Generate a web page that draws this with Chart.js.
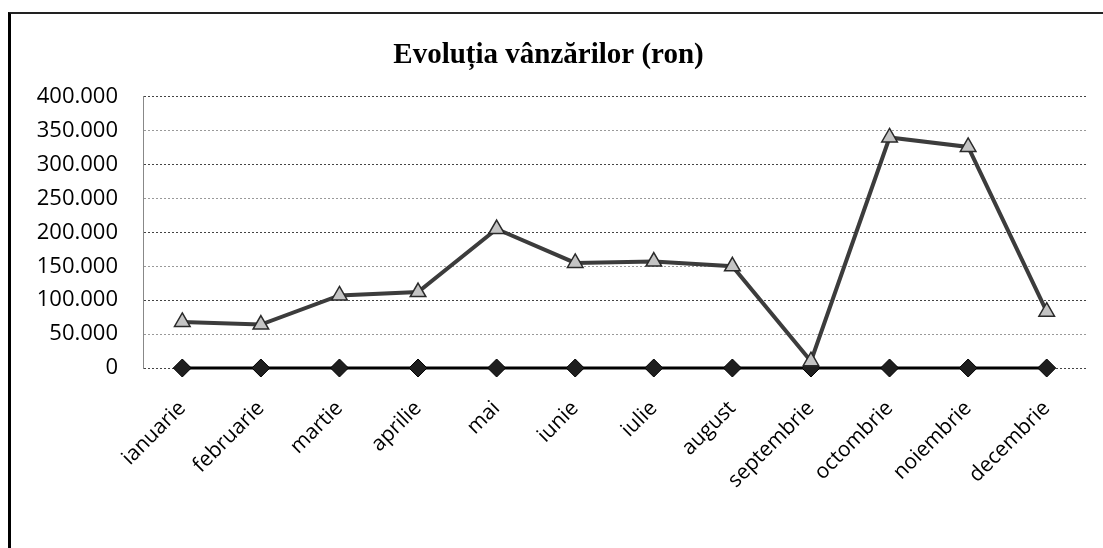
<!DOCTYPE html>
<html>
<head>
<meta charset="utf-8">
<script src="https://cdn.jsdelivr.net/npm/chart.js@4"></script>
<style>
  body { margin: 0; background: #fff; }
  #frame {
    position: absolute;
    left: 8px;
    top: 12px;
    width: 1092px;
    height: 534px;
    border-left: 3px solid #000;
    border-top: 2px solid #222;
  }
</style>
</head>
<body>
<div id="frame"><canvas id="chart" width="1092" height="534"></canvas></div>
<script>
const luni = ['ianuarie', 'februarie', 'martie', 'aprilie', 'mai', 'iunie',
              'iulie', 'august', 'septembrie', 'octombrie', 'noiembrie', 'decembrie'];
const vanzari = [68000, 64000, 107000, 112000, 205000, 155000,
                 157000, 150000, 10000, 340000, 326000, 83000];
const baza = [0, 0, 0, 0, 0, 0, 0, 0, 0, 0, 0, 0];
const yTicks = [0, 50000, 100000, 150000, 200000, 250000, 300000, 350000, 400000];

// 400000 -> "400.000"
function formatRon(v) {
    return String(v).replace(/\B(?=(\d{3})+(?!\d))/g, '.');
}

const ctx = document.getElementById('chart').getContext('2d');
new Chart(ctx, {
    type: 'line',
    data: {
        labels: luni,
        datasets: [
            {
                label: 'Vânzări',
                data: vanzari,
                borderColor: '#3c3c3c',
                borderWidth: 4,
                pointStyle: 'triangle',
                pointRadius: 9,
                pointBackgroundColor: '#c4c4c4',
                pointBorderColor: '#2a2a2a',
                pointBorderWidth: 1.5,
                tension: 0,
                clip: false,
                order: 1
            },
            {
                label: 'Bază',
                data: baza,
                borderColor: '#000',
                borderWidth: 3,
                pointStyle: 'rectRot',
                pointRadius: 9,
                pointBackgroundColor: '#1e1e1e',
                pointBorderColor: '#000',
                pointBorderWidth: 1,
                tension: 0,
                clip: false,
                order: 2
            }
        ]
    },
    options: {
        responsive: false,
        animation: false,
        layout: {
            padding: { top: 24, right: 17, left: 0, bottom: 0 }
        },
        plugins: {
            legend: { display: false },
            tooltip: { enabled: false },
            title: {
                display: true,
                text: 'Evoluția vânzărilor (ron)',
                color: '#000',
                font: { family: 'Liberation Serif', size: 29, weight: 'bold' },
                padding: { top: 0, bottom: 24 }
            }
        },
        scales: {
            x: {
                offset: true,
                grid: { display: false },
                border: { display: false },
                ticks: {
                    minRotation: 45,
                    maxRotation: 45,
                    padding: 20,
                    color: '#000',
                    font: { family: 'Open Sans', size: 21 }
                },
                afterFit: (scale) => { scale.height = 180; }
            },
            y: {
                min: 0,
                max: 400000,
                afterBuildTicks: (scale) => {
                    scale.ticks = yTicks.map(v => ({ value: v }));
                },
                grid: {
                    drawTicks: false,
                    color: (c) => (c.tick && c.tick.value % 100000 === 0) ? '#444' : '#999',
                    lineWidth: 1
                },
                border: { display: true, color: '#888', dash: [2, 2] },
                ticks: {
                    padding: 25,
                    color: '#000',
                    font: { family: 'Open Sans', size: 22 },
                    callback: (v) => formatRon(v)
                },
                afterFit: (scale) => { scale.width = 132; }
            }
        }
    }
});
</script>
</body>
</html>
